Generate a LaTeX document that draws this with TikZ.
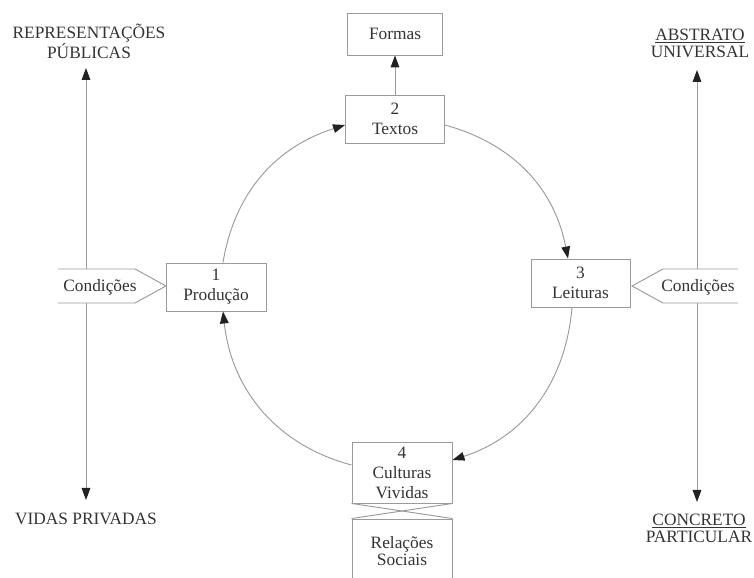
\documentclass[tikz,border=0pt]{standalone}
\usepackage{fontspec}
\setmainfont{Liberation Serif}
\usetikzlibrary{arrows.meta,calc}
\definecolor{ln}{HTML}{9A9A9A}
\definecolor{tx}{HTML}{333333}
\definecolor{ah}{HTML}{222222}
\begin{document}
\begin{tikzpicture}[x=0.75pt,y=0.75pt,
  tip/.tip={Triangle[length=9pt,width=6.5pt,color=ah]},
  box/.style={draw=ln, line width=0.7pt, fill=white, text=tx, align=center,
    font=\fontsize{13}{15}\selectfont, inner sep=0pt},
  conn/.style={draw=ln, line width=0.7pt, -tip},
  bothconn/.style={draw=ln, line width=0.7pt, tip-tip},
  lab/.style={text=tx, align=center, font=\fontsize{13}{12.75}\selectfont, inner sep=0pt},
  condshape/.style={draw=ln, line width=0.7pt, fill=white},
  condtext/.style={text=tx, font=\fontsize{13}{15}\selectfont, inner sep=0pt}]
\useasboundingbox (0,0) rectangle (754,578);
\clip (0,0) rectangle (754,578);

% outer labels
\node[lab] (rp) at (89,537) {REPRESENTAÇÕES\\PÚBLICAS};
\node[lab] (vp) at (86,59) {VIDAS PRIVADAS};
\node[lab] (au) at (700,535) {\underline{ABSTRATO}\\UNIVERSAL};
\node[lab] (cp) at (699,49.5) {\underline{CONCRETO}\\PARTICULAR};

% vertical axes
\coordinate (lt) at (86,510);
\coordinate (lb) at (86,78);
\coordinate (rt) at (697,508);
\coordinate (rb) at (697,76);
\draw[bothconn] (lb) -- (lt);
\draw[bothconn] (rb) -- (rt);

% Condições shapes
\draw[condshape] (58,309) -- (135,309) -- (166,292) -- (135,275) -- (58,275);
\node[condtext] (cl) at (100,291) {Condições};
\draw[condshape] (738,309) -- (663,309) -- (632,292) -- (663,275) -- (738,275);
\node[condtext] (cr) at (698,291) {Condições};

% boxes
\node[box, minimum width=75pt, minimum height=36pt] (b1) at (216,291) {1\\Produção};
\node[box, minimum width=74.25pt, minimum height=36pt] (b2) at (395,459) {2\\Textos};
\node[box, minimum width=74.25pt, minimum height=36pt] (b3) at (580.5,295) {3\\Leituras};
\node[box, minimum width=75pt, minimum height=45.75pt] (b4) at (402,105.5) {4\\Culturas\\Vividas};
\node[box, minimum width=71.25pt, minimum height=31.5pt] (fo) at (395,544) {Formas};
\node[box, minimum width=75pt, minimum height=48pt, font=\fontsize{13}{12.5}\selectfont] (rs) at (402,27) {Relações\\Sociais};

% crossing lines between box 4 and Relações Sociais
\draw[draw=ln, line width=0.7pt] (b4.south west) -- (rs.north east);
\draw[draw=ln, line width=0.7pt] (b4.south east) -- (rs.north west);

% Textos -> Formas
\draw[conn] (b2.north) -- (fo.south);

% cycle arcs
\draw[conn] ($(b1.north)+(7,0)$) to[out=80.6,in=197.6] ($(b2.west)+(0,-6)$);
\draw[conn] ($(b2.east)+(0,-6)$) to[out=-15.4,in=101] ($(b3.north)+(-12.5,0)$);
\draw[conn] ($(b3.south)+(-8.5,0)$) to[out=-94.9,in=17.8] ($(b4.east)+(0,12.5)$);
\draw[conn] ($(b4.west)+(0,7.5)$) to[out=165.1,in=-83.8] ($(b1.south)+(7,0)$);
\end{tikzpicture}
\end{document}
